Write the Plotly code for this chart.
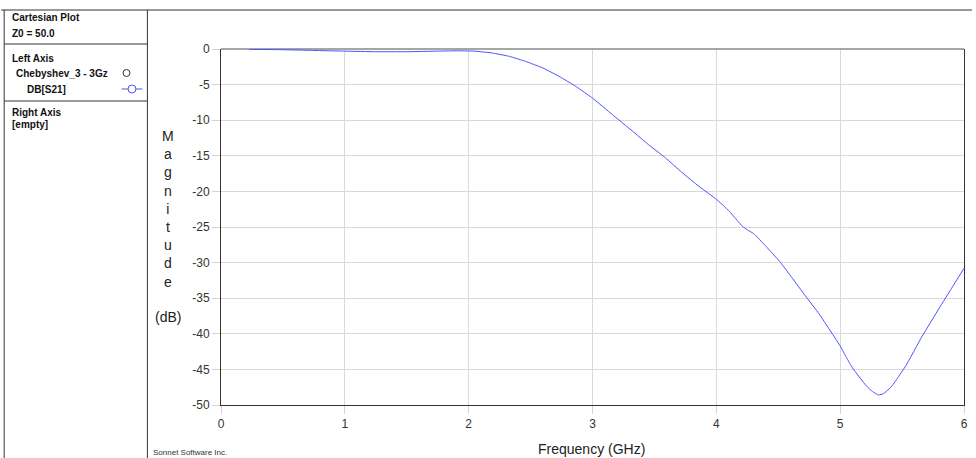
import plotly.graph_objects as go

# Chebyshev_3 - 3Gz : DB[S21] versus frequency
freq_ghz = [0.23, 0.5, 0.75, 1.0, 1.25, 1.5, 1.75, 1.92, 2.05, 2.19, 2.33, 2.46,
            2.6, 2.73, 2.87, 3.0, 3.16, 3.32, 3.45, 3.59, 3.72, 3.86, 4.0, 4.1,
            4.17, 4.21, 4.25, 4.30, 4.40, 4.51, 4.61, 4.72, 4.83, 4.91, 5.0,
            5.05, 5.10, 5.21, 5.26, 5.31, 5.35, 5.41, 5.46, 5.53, 5.66, 5.80,
            5.90, 6.0]
db_s21 = [-0.05, -0.1, -0.2, -0.3, -0.38, -0.38, -0.3, -0.25, -0.3, -0.56, -1.04, -1.74,
          -2.67, -3.84, -5.3, -6.9, -9.2, -11.5, -13.4, -15.3, -17.3, -19.3, -21.1, -22.7,
          -24.1, -24.9, -25.4, -25.9, -27.7, -29.8, -32.1, -34.7, -37.2, -39.3, -41.7,
          -43.3, -44.8, -47.3, -48.1, -48.6, -48.4, -47.5, -46.3, -44.5, -40.4, -36.4,
          -33.6, -30.8]

x_ticks = [0, 1, 2, 3, 4, 5, 6]
y_ticks = [0, -5, -10, -15, -20, -25, -30, -35, -40, -45, -50]

W, H = 976, 458
L, R, T, B = 221, 8, 49, 53
PW, PH = W - L - R, H - T - B


def px(x):
    return (x - L) / PW


def py(y):
    return (H - B - y) / PH


fig = go.Figure()
fig.add_trace(go.Scatter(
    x=freq_ghz, y=db_s21, mode="lines",
    line=dict(color="#5050ff", width=1, shape="spline", smoothing=0.3),
    showlegend=False, hoverinfo="x+y",
))

axis_font = dict(family="Liberation Sans, Arial, sans-serif", size=12, color="#333333")
fig.update_xaxes(
    range=[0, 6], tickvals=x_ticks, ticktext=[str(v) for v in x_ticks],
    showgrid=True, gridcolor="#d9d9d9", gridwidth=1,
    showline=True, linecolor="#333333", linewidth=1,
    ticks="outside", ticklen=8, tickcolor="#d3d3d3", tickwidth=1,
    zeroline=False, tickfont=axis_font,
)
fig.update_yaxes(
    range=[-50, 0], tickvals=y_ticks, ticktext=[str(v) for v in y_ticks],
    showgrid=True, gridcolor="#d9d9d9", gridwidth=1,
    showline=True, linecolor="#333333", linewidth=1, mirror=True,
    ticks="outside", ticklen=8, tickcolor="#d3d3d3", tickwidth=1,
    zeroline=True, zerolinecolor="#a6a6a6", zerolinewidth=2,
    tickfont=axis_font,
)

shapes = []
line_k = dict(color="#333333", width=1)
# information panel on the left
shapes.append(dict(type="line", xref="paper", yref="paper",
                   x0=px(0), x1=px(W), y0=py(10), y1=py(10), line=line_k))
shapes.append(dict(type="line", xref="paper", yref="paper",
                   x0=px(3), x1=px(3), y0=py(10), y1=py(H), line=line_k))
shapes.append(dict(type="line", xref="paper", yref="paper",
                   x0=px(147), x1=px(147), y0=py(10), y1=py(H), line=line_k))
for yy in (44, 101):
    shapes.append(dict(type="line", xref="paper", yref="paper",
                       x0=px(3), x1=px(147), y0=py(yy), y1=py(yy), line=line_k))
# legend glyphs
shapes.append(dict(type="circle", xref="paper", yref="paper",
                   x0=px(122.5), x1=px(129.5), y0=py(69.5), y1=py(76.5),
                   line=dict(color="#333333", width=1), fillcolor="white"))
shapes.append(dict(type="line", xref="paper", yref="paper",
                   x0=px(121), x1=px(142), y0=py(89), y1=py(89),
                   line=dict(color="#5050ff", width=1)))
shapes.append(dict(type="circle", xref="paper", yref="paper",
                   x0=px(127.5), x1=px(135.5), y0=py(85), y1=py(93),
                   line=dict(color="#5050ff", width=1), fillcolor="white"))

panel_font = dict(family="Liberation Sans, Arial, sans-serif", size=10, color="#111111")
annotations = []


def note(text, x, y, font, xanchor="left", yanchor="middle"):
    annotations.append(dict(text=text, x=px(x), y=py(y), xref="paper", yref="paper",
                            showarrow=False, xanchor=xanchor, yanchor=yanchor,
                            font=font))


bold = "<b>%s</b>"
note(bold % "Cartesian Plot", 9, 17, panel_font)
note(bold % "Z0 = 50.0", 9, 34, panel_font)
note(bold % "Left Axis", 9, 58, panel_font)
note(bold % "Chebyshev_3 - 3Gz", 13, 73, panel_font)
note(bold % "DB[S21]", 24, 89, panel_font)
note(bold % "Right Axis", 9, 112, panel_font)
note(bold % "[empty]", 9, 125, panel_font)

title_font = dict(family="Liberation Sans, Arial, sans-serif", size=14, color="#222222")
note("<br>".join("Magnitude"), 168, 209, title_font, xanchor="center")
note("(dB)", 168, 317, title_font, xanchor="center")
note("Frequency (GHz)", 593, 449, title_font, xanchor="center")
note("Sonnet Software Inc.", 151, 452,
     dict(family="Liberation Sans, Arial, sans-serif", size=8, color="#333333"))

fig.update_layout(
    width=W, height=H,
    margin=dict(l=L, r=R, t=T, b=B, pad=0),
    paper_bgcolor="white", plot_bgcolor="white",
    shapes=shapes, annotations=annotations,
    showlegend=False,
)

fig.write_html("out.html")
